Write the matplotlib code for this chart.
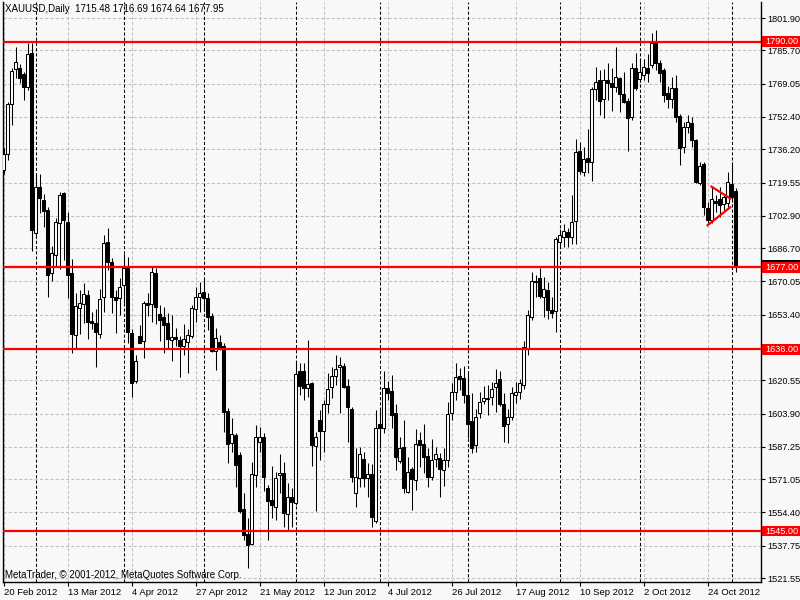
import matplotlib
matplotlib.use("Agg")
import matplotlib.pyplot as plt
import matplotlib.transforms as mtransforms
from matplotlib.patches import Rectangle

plt.rcParams['font.family'] = ['Liberation Sans', 'DejaVu Sans']

# ---------------- data ----------------
symbol_title = "XAUUSD,Daily  1715.48 1716.69 1674.64 1677.95"
copyright_text = "MetaTrader, \u00a9 2001-2012, MetaQuotes Software Corp."

opens = [1725.8, 1733.8, 1758.9, 1776.2, 1776.7, 1773.9, 1767.5, 1784.5, 1694.1, 1717.1,
         1710.8, 1705.8, 1674.1, 1683.2, 1699.1, 1714.1, 1699.6, 1674.1, 1643.2, 1656.6,
         1658.7, 1663.2, 1650.0, 1649.0, 1643.7, 1662.4, 1689.6, 1679.6, 1662.4, 1661.6,
         1668.2, 1676.6, 1644.0, 1620.3, 1642.5, 1640.4, 1659.4, 1658.6, 1674.4, 1653.7,
         1652.4, 1649.4, 1640.7, 1642.1, 1640.7, 1637.7, 1639.9, 1642.7, 1656.1, 1662.1,
         1664.6, 1661.6, 1652.7, 1635.4, 1639.9, 1637.7, 1605.3, 1589.0, 1593.2, 1583.1,
         1556.0, 1543.6, 1538.6, 1573.1, 1589.8, 1592.3, 1566.8, 1560.6, 1557.3, 1573.1,
         1574.0, 1553.6, 1562.2, 1559.3, 1625.1, 1625.1, 1616.5, 1619.3, 1587.6, 1600.9,
         1595.3, 1608.9, 1617.0, 1622.7, 1627.4, 1627.7, 1617.7, 1606.0, 1564.0, 1571.5,
         1581.0, 1571.5, 1573.6, 1550.3, 1598.7, 1596.5, 1616.5, 1615.2, 1604.1, 1580.3,
         1587.0, 1564.8, 1576.0, 1570.6, 1590.6, 1588.5, 1582.6, 1572.3, 1581.0, 1581.5,
         1575.6, 1580.6, 1604.3, 1614.8, 1622.8, 1621.5, 1613.2, 1600.2, 1588.1, 1604.0,
         1610.3, 1611.5, 1612.0, 1617.0, 1621.0, 1608.9, 1598.7, 1602.3, 1613.2, 1614.8,
         1618.0, 1636.0, 1652.4, 1669.6, 1671.6, 1662.4, 1665.7, 1655.7, 1655.4, 1689.9,
         1692.4, 1694.9, 1692.4, 1700.2, 1735.3, 1725.0, 1731.7, 1730.0, 1766.5, 1770.9,
         1761.4, 1770.9, 1769.5, 1767.2, 1771.7, 1763.9, 1760.5, 1752.2, 1776.7, 1771.2,
         1773.4, 1777.0, 1778.4, 1789.5, 1779.5, 1775.9, 1764.3, 1761.2, 1766.7, 1752.8,
         1737.2, 1747.5, 1749.2, 1740.8, 1719.5, 1728.8, 1706.6, 1700.8, 1710.3, 1711.1,
         1708.8, 1709.1, 1718.8, 1715.48]
highs = [1736.8, 1760.0, 1776.8, 1787.2, 1779.0, 1775.0, 1789.2, 1789.2, 1723.8, 1723.8,
         1714.0, 1707.4, 1687.8, 1701.8, 1715.0, 1715.0, 1704.9, 1681.1, 1664.1, 1665.7,
         1669.1, 1665.7, 1654.9, 1656.1, 1666.1, 1693.3, 1696.6, 1681.6, 1665.7, 1671.6,
         1683.8, 1682.4, 1646.0, 1633.2, 1648.2, 1660.0, 1664.1, 1677.7, 1676.6, 1658.2,
         1657.4, 1654.4, 1653.2, 1646.6, 1642.7, 1648.7, 1646.1, 1658.2, 1667.0, 1669.9,
         1671.6, 1664.1, 1654.1, 1646.6, 1643.2, 1639.0, 1606.5, 1601.5, 1594.0, 1584.8,
         1564.2, 1551.6, 1579.8, 1598.2, 1597.3, 1594.0, 1568.0, 1577.6, 1574.8, 1583.7,
         1579.8, 1569.1, 1566.6, 1629.9, 1629.4, 1629.4, 1640.7, 1619.8, 1594.8, 1605.6,
         1610.7, 1624.3, 1627.4, 1633.2, 1632.0, 1629.1, 1621.0, 1607.0, 1586.5, 1587.3,
         1584.8, 1579.0, 1578.6, 1605.6, 1606.5, 1625.1, 1620.3, 1623.2, 1608.9, 1592.3,
         1600.7, 1582.3, 1577.3, 1596.0, 1594.8, 1598.7, 1586.5, 1591.1, 1587.3, 1584.2,
         1586.5, 1609.8, 1619.3, 1629.1, 1626.6, 1627.8, 1624.0, 1614.3, 1606.0, 1614.8,
         1617.7, 1618.2, 1619.8, 1626.1, 1625.1, 1614.0, 1606.0, 1617.3, 1619.8, 1621.0,
         1640.0, 1655.7, 1674.9, 1673.2, 1676.6, 1672.1, 1669.9, 1662.4, 1692.4, 1696.1,
         1698.8, 1696.6, 1713.3, 1741.3, 1740.0, 1737.2, 1746.2, 1767.5, 1777.2, 1775.9,
         1776.2, 1779.5, 1776.7, 1787.2, 1772.2, 1775.0, 1762.0, 1779.5, 1784.2, 1782.0,
         1781.2, 1784.0, 1794.5, 1795.9, 1781.0, 1777.0, 1768.0, 1772.5, 1773.4, 1754.0,
         1750.0, 1753.3, 1752.5, 1741.5, 1730.0, 1730.0, 1710.0, 1717.4, 1713.3, 1717.4,
         1714.0, 1724.9, 1730.0, 1716.69]
lows = [1724.0, 1731.0, 1748.3, 1771.9, 1769.4, 1760.9, 1766.0, 1685.4, 1692.0, 1704.3,
        1697.3, 1662.4, 1670.4, 1677.0, 1676.2, 1680.8, 1661.6, 1634.0, 1636.5, 1643.7,
        1649.2, 1641.2, 1646.0, 1627.4, 1641.7, 1654.9, 1675.7, 1654.1, 1644.4, 1653.2,
        1659.1, 1639.0, 1612.0, 1619.3, 1639.0, 1631.6, 1652.7, 1649.9, 1648.7, 1640.4,
        1634.0, 1636.1, 1630.4, 1637.7, 1622.3, 1633.2, 1624.3, 1641.6, 1649.9, 1654.9,
        1655.4, 1645.7, 1634.9, 1625.7, 1635.7, 1594.8, 1579.0, 1584.8, 1567.3, 1554.0,
        1540.6, 1526.4, 1538.1, 1567.3, 1584.8, 1565.3, 1540.6, 1551.6, 1550.6, 1564.2,
        1547.3, 1545.6, 1547.3, 1558.1, 1613.2, 1610.7, 1612.4, 1577.6, 1555.2, 1580.6,
        1584.8, 1604.0, 1611.6, 1618.2, 1604.0, 1616.5, 1589.8, 1569.8, 1556.9, 1567.3,
        1567.0, 1562.3, 1547.3, 1549.2, 1586.5, 1594.0, 1610.7, 1596.5, 1575.6, 1579.0,
        1564.0, 1564.0, 1555.6, 1565.6, 1577.3, 1573.9, 1567.3, 1570.6, 1577.3, 1562.3,
        1567.6, 1577.3, 1600.7, 1610.7, 1615.7, 1609.3, 1591.5, 1584.2, 1584.8, 1601.5,
        1608.7, 1603.2, 1608.2, 1604.8, 1607.7, 1589.8, 1589.3, 1600.7, 1609.0, 1611.0,
        1616.0, 1633.0, 1650.7, 1662.4, 1661.6, 1652.4, 1651.1, 1651.6, 1644.9, 1687.1,
        1687.4, 1687.1, 1688.8, 1688.8, 1723.8, 1723.0, 1724.1, 1720.4, 1760.9, 1753.3,
        1751.7, 1760.9, 1755.5, 1765.0, 1755.0, 1759.2, 1735.5, 1750.8, 1765.9, 1770.0,
        1770.9, 1770.0, 1776.7, 1776.0, 1770.0, 1760.0, 1756.7, 1756.7, 1750.0, 1728.3,
        1734.2, 1744.2, 1737.5, 1719.1, 1718.5, 1703.3, 1698.8, 1699.5, 1704.9, 1702.4,
        1706.0, 1707.5, 1710.0, 1674.64]
closes = [1733.8, 1758.9, 1775.5, 1780.0, 1771.7, 1767.2, 1783.9, 1695.8, 1717.1, 1711.6,
          1705.4, 1673.2, 1684.1, 1699.6, 1713.3, 1700.8, 1673.2, 1643.7, 1657.7, 1659.1,
          1663.7, 1649.9, 1649.0, 1644.9, 1661.1, 1689.1, 1679.9, 1662.4, 1660.7, 1667.0,
          1676.6, 1644.9, 1619.3, 1630.2, 1639.4, 1659.4, 1658.1, 1674.9, 1657.4, 1650.7,
          1648.2, 1641.2, 1642.1, 1641.4, 1637.7, 1641.2, 1643.2, 1656.6, 1662.1, 1664.1,
          1661.6, 1652.4, 1635.4, 1641.6, 1637.1, 1604.5, 1588.5, 1593.7, 1578.1, 1555.3,
          1543.1, 1538.1, 1573.6, 1592.0, 1592.3, 1572.0, 1560.2, 1558.1, 1571.5, 1574.0,
          1554.3, 1562.2, 1559.8, 1623.7, 1617.7, 1616.5, 1618.7, 1588.1, 1592.3, 1595.3,
          1608.9, 1616.0, 1622.7, 1626.0, 1628.2, 1617.3, 1607.1, 1572.3, 1572.3, 1583.7,
          1571.5, 1573.6, 1552.1, 1596.5, 1596.5, 1616.5, 1614.3, 1603.2, 1582.3, 1586.5,
          1566.5, 1574.8, 1571.0, 1588.5, 1588.1, 1582.3, 1572.3, 1580.6, 1583.5, 1576.0,
          1580.6, 1603.6, 1614.8, 1622.3, 1621.0, 1613.2, 1598.7, 1586.5, 1602.0, 1609.8,
          1611.5, 1611.0, 1616.0, 1619.0, 1608.9, 1597.6, 1602.0, 1614.3, 1614.8, 1619.0,
          1637.0, 1653.2, 1670.0, 1670.1, 1662.7, 1666.1, 1655.7, 1654.4, 1691.1, 1693.3,
          1695.4, 1692.1, 1699.9, 1734.7, 1725.5, 1731.2, 1730.0, 1766.2, 1769.9, 1760.5,
          1770.9, 1769.5, 1767.5, 1772.2, 1763.9, 1760.0, 1751.7, 1776.7, 1766.7, 1775.0,
          1777.2, 1774.5, 1789.5, 1779.5, 1774.2, 1763.4, 1761.2, 1766.7, 1752.5, 1736.7,
          1747.2, 1749.8, 1740.8, 1719.9, 1727.8, 1707.1, 1700.8, 1711.1, 1709.5, 1708.3,
          1712.1, 1719.9, 1712.4, 1677.95]

# date ticks (bar index -> label)
date_tick_bars = [0, 16, 32, 48, 64, 80, 96, 112, 128, 144, 160, 176]
date_tick_labels = ["20 Feb 2012", "13 Mar 2012", "4 Apr 2012", "27 Apr 2012", "21 May 2012",
                    "12 Jun 2012", "4 Jul 2012", "26 Jul 2012", "17 Aug 2012", "10 Sep 2012",
                    "2 Oct 2012", "24 Oct 2012"]
# first bar of each month (period separators)
month_start_bars = [8, 30, 50, 73, 94, 116, 139, 159, 182]

price_ticks = [1801.90, 1785.70, 1769.05, 1752.40, 1736.20, 1719.55, 1702.90, 1686.70, 1670.05,
               1653.40, 1636.95, 1620.55, 1603.90, 1587.25, 1571.05, 1554.40, 1537.75, 1521.55]
price_tick_labels = ["1801.90", "1785.70", "1769.05", "1752.40", "1736.20", "1719.55", "1702.90",
                     "1686.70", "1670.05", "1653.40", "", "1620.55", "1603.90", "1587.25",
                     "1571.05", "1554.40", "1537.75", "1521.55"]

levels = [1790.00, 1677.00, 1636.00, 1545.00]
bid_price = 1677.95

# triangle trendlines: (bar, price) pairs
tri_upper_bars = [176.75, 181.9]
tri_upper_prices = [1717.8, 1711.3]
tri_lower_bars = [175.8, 181.9]
tri_lower_prices = [1697.8, 1707.5]

# ---------------- figure ----------------
BG = '#F8F8F8'
fig = plt.figure(figsize=(8, 6), dpi=100, facecolor=BG)
ax = fig.add_axes([2.5 / 800, 18 / 600, 758 / 800, 580 / 600])
ax.set_facecolor(BG)
ax.set_xlim(-0.25, 189.25)
ax.set_ylim(1519.56, 1809.91)

# grid
for p in price_ticks:
    ax.axhline(p, color='#C0C0C0', lw=0.75, ls=(0, (3, 2)), zorder=1)
for b in date_tick_bars:
    ax.axvline(b, color='#C0C0C0', lw=0.75, ls=(0, (3, 2)), zorder=1)
for b in month_start_bars:
    ax.axvline(b, color='black', lw=0.75, ls=(0, (3, 2)), zorder=1.5)

# bid line
ax.axhline(bid_price, color='#C0C0C0', lw=0.9, zorder=1.6)

# candles
xs = list(range(len(opens)))
ax.vlines(xs, lows, highs, color='black', lw=0.75, zorder=2)
bottoms = [min(o, c) for o, c in zip(opens, closes)]
heights = [max(abs(c - o), 0.25) for o, c in zip(opens, closes)]
colors = ['white' if c >= o else 'black' for o, c in zip(opens, closes)]
ax.bar(xs, heights, bottom=bottoms, width=0.55, color=colors, edgecolor='black',
       linewidth=0.75, zorder=3)

# horizontal levels
for lv in levels:
    ax.axhline(lv, color='#FF0000', lw=1.6, zorder=4)

# triangle
ax.plot(tri_upper_bars, tri_upper_prices, color='#FF0000', lw=1.6, zorder=5,
        solid_capstyle='butt')
ax.plot(tri_lower_bars, tri_lower_prices, color='#FF0000', lw=1.6, zorder=5,
        solid_capstyle='butt')

# spines
for s in ['left', 'right', 'bottom']:
    ax.spines[s].set_color('black')
    ax.spines[s].set_linewidth(1.0)
ax.spines['top'].set_visible(False)

# y axis on right
ax.yaxis.tick_right()
ax.set_yticks(price_ticks)
ax.set_yticklabels(price_tick_labels, fontsize=6.6)
ax.tick_params(axis='y', direction='out', length=3, width=0.8, pad=2, colors='black')
ax.tick_params(axis='y', which='both', left=False)

# x axis
ax.set_xticks(date_tick_bars)
ax.set_xticklabels(date_tick_labels, fontsize=6.8, ha='left')
ax.tick_params(axis='x', direction='out', length=3, width=0.8, pad=1.5, colors='black')
for lab in ax.get_xticklabels():
    lab.set_horizontalalignment('left')

# right-side price labels (boxes)
trans = mtransforms.blended_transform_factory(ax.transAxes, ax.transData)
box_x0 = (761.5 - 2.5) / 758
box_w = (800 - 761.5) / 758
box_h = 5.3


def price_box(price, text, face, z):
    r = Rectangle((box_x0, price - box_h / 2), box_w, box_h, transform=trans,
                  facecolor=face, edgecolor='none', clip_on=False, zorder=z)
    ax.add_patch(r)
    if text:
        ax.text((765 - 2.5) / 758, price, text, transform=trans, color='white',
                fontsize=6.6, va='center', ha='left', clip_on=False, zorder=z + 0.1)


# bid price box (almost fully hidden behind the 1677.00 label)
price_box(bid_price, None, 'black', 10)
for lv in levels:
    price_box(lv, "%.2f" % lv, '#FF0000', 11)

# texts
ax.text((5 - 2.5) / 758, (582 - 4) / 580, symbol_title, transform=ax.transAxes,
        fontsize=7, va='top', ha='left', color='black', zorder=12)
ax.text((5 - 2.5) / 758, 0.004, copyright_text, transform=ax.transAxes,
        fontsize=7, va='bottom', ha='left', color='black', zorder=12)

fig.savefig('out.png', dpi=100, facecolor=BG)
